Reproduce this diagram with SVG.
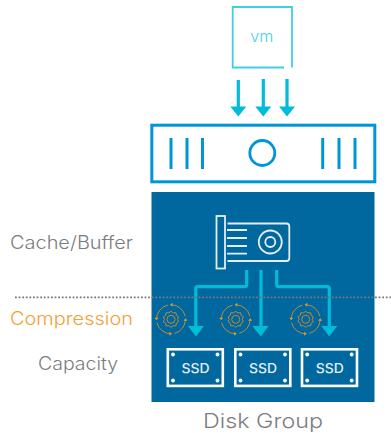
<svg xmlns="http://www.w3.org/2000/svg" width="391" height="433" viewBox="0 0 391 433">
<style>
text{font-family:"Inter","Liberation Sans",sans-serif}
.lbl{font-size:18px;fill:#7b7d80;font-weight:300}
.ssd{fill:none;stroke:#fff;stroke-width:2.6}
.dot{fill:#fff}
.st{font-size:13.500px;font-weight:500;fill:#e4eef5;text-anchor:middle}
.g{fill:none;stroke:#c08a35;stroke-width:1}
.ln{fill:none;stroke:#00bcd9;stroke-width:3.200}
.ah{fill:#00bcd9}
.srv{fill:none;stroke:#0095d9}
.nic{fill:none;stroke:#e4eef5;stroke-width:1.800}
</style>
<defs>
<g id="gear">
<circle class="g" r="14.500" stroke-dasharray="19 3.800"/>
<circle class="g" r="4"/>
<path class="g" d="M0-8 2.200-6.400 4.900-6.600 5.400-4 7.600-2.400 6.600 0 7.600 2.400 5.400 4 4.900 6.600 2.200 6.400 0 8-2.200 6.400-4.900 6.600-5.400 4-7.600 2.400-6.600 0-7.600-2.400-5.400-4-4.900-6.600-2.200-6.400Z"/>
<path d="M-1 -14.500 1.500 -16.500 1.500 -12.500ZM14.500 -1 16.500 1.500 12.500 1.500ZM1 14.500 -1.500 16.500 -1.500 12.500ZM-14.500 1 -16.500 -1.500 -12.500 -1.500Z" fill="#e39a2c"/>
</g>
<g id="ssd">
<rect class="ssd" x="1.300" y="1.300" width="55" height="36.600"/>
<circle class="dot" cx="6.500" cy="6.500" r="1.900"/><circle class="dot" cx="51" cy="6.500" r="1.900"/>
<circle class="dot" cx="6.500" cy="32.500" r="1.900"/><circle class="dot" cx="51" cy="32.500" r="1.900"/>
</g>
</defs>
<g id="disk-group"><rect x="151.500" y="192" width="223" height="210" fill="#00689f"/>
<text class="lbl" x="203" y="428" style="font-size:20px" textLength="120" lengthAdjust="spacingAndGlyphs">Disk Group</text></g>
<g id="vm">
<path d="M284 67.500H232.700V7H292V67.500" fill="none" stroke="#3fd0e0" stroke-width="1.800"/>
<text x="261.700" y="41.700" text-anchor="middle" font-size="15" font-weight="300" fill="#3fd0e0" textLength="23" lengthAdjust="spacingAndGlyphs">vm</text>
</g>
<g id="server">
<rect class="srv" x="151.800" y="125.200" width="223" height="56.600" stroke-width="3"/>
<path class="srv" stroke-width="3" d="M171 138V169M187 138V169M202.500 138V169M322.700 138V169M339 138V169M355 138V169"/>
<circle class="srv" cx="262.300" cy="153" r="12.500" stroke-width="2.800"/>
</g>
<g id="cache-nic">
<rect class="nic" x="216.500" y="216" width="8.500" height="52.500"/>
<path class="nic" d="M227.500 223.500H286.500Q289.300 223.500 289.300 226.500V258Q289.300 261 286.500 261H227.500M227 230H247M227 238H247M227 246H247M227 253.700H247"/>
<circle class="nic" cx="270.300" cy="242" r="11.500"/>
<circle class="nic" cx="270.300" cy="242" r="5"/>
</g>
<g id="connectors">
<path class="ln" d="M238.300 80V107M263.300 79V107M287 79V107"/>
<path class="ah" d="M230.300 106.500H246.300L238.300 116.500ZM255.300 106.500H271.300L263.300 116.500ZM279 106.500H295L287 116.500Z"/>
<path class="ln" d="M246.700 270V284.700Q246.700 286.700 244.700 286.700H197.300Q195.800 286.700 195.800 288.700V327M261 270V327M276.700 270V284.700Q276.700 286.700 278.700 286.700H327.300Q329.300 286.700 329.300 288.700V327"/>
<path class="ah" d="M188 326H204L196 336.500ZM252.500 326H268.500L260.800 336.500ZM321.300 326H337.300L329.300 336.500Z"/>
</g>
<path id="tier-divider" d="M15 297.300H391" fill="none" stroke="#77797c" stroke-width="1.800" stroke-dasharray="1.800 1.800"/>
<g id="cache-label"><text class="lbl" x="10" y="249" textLength="123" lengthAdjust="spacingAndGlyphs">Cache/Buffer</text></g>
<g id="compression-label"><text class="lbl" x="10" y="325" textLength="123" lengthAdjust="spacingAndGlyphs" style="fill:#f5a033">Compression</text></g>
<g id="capacity-label"><text class="lbl" x="38" y="370" textLength="80" lengthAdjust="spacingAndGlyphs">Capacity</text></g>
<g id="compress-1"><use href="#gear" x="171" y="319.300"/></g>
<g id="compress-2"><use href="#gear" x="235.700" y="319.300"/></g>
<g id="compress-3"><use href="#gear" x="305.700" y="319.300"/></g>
<g id="ssd-1"><use href="#ssd" x="166.500" y="348"/><text class="st" x="195.500" y="372.500" textLength="28" lengthAdjust="spacingAndGlyphs">SSD</text></g>
<g id="ssd-2"><use href="#ssd" x="234" y="348"/><text class="st" x="263" y="372.500" textLength="28" lengthAdjust="spacingAndGlyphs">SSD</text></g>
<g id="ssd-3"><use href="#ssd" x="300.700" y="348"/><text class="st" x="329.700" y="372.500" textLength="28" lengthAdjust="spacingAndGlyphs">SSD</text></g>
</svg>
